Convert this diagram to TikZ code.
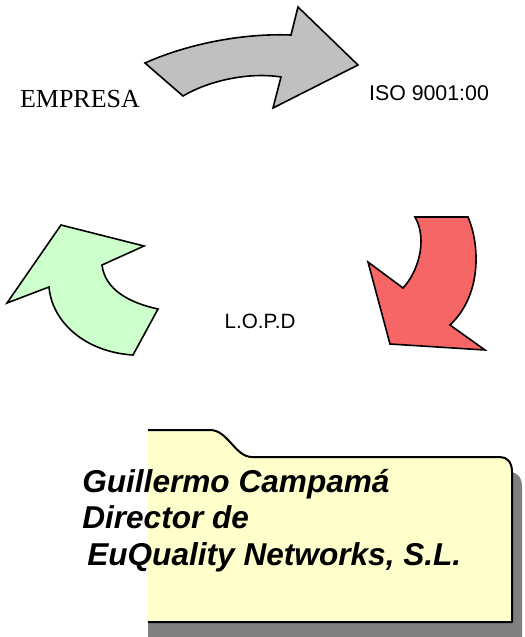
\documentclass[tikz,border=0pt]{standalone}
\usepackage{fontspec}
\setmainfont{Liberation Serif}
\newfontfamily\arialfont{Liberation Sans}
\usepackage{tikz}
\usetikzlibrary{
  calc,
  positioning,
}
\tikzstyle{bigarrow} = [
  draw=black,
  line width=1.2pt,
  line join=miter,
]
\tikzstyle{cyclelabel} = [
  inner sep=0pt,
  text=black,
]
\tikzstyle{foldertext} = [
  inner sep=0pt,
  anchor=base west,
  font=\arialfont\bfseries\itshape\fontsize{23.7}{27}\selectfont,
]
\definecolor{arrowgray}{RGB}{192, 192, 192}
\definecolor{arrowred}{RGB}{246, 102, 102}
\definecolor{arrowgreen}{RGB}{204, 255, 204}
\definecolor{folderyellow}{RGB}{255, 255, 204}
\definecolor{shadowgray}{RGB}{128, 128, 128}

\begin{document}
\begin{tikzpicture}[x=0.75pt, y=-0.75pt]

        \useasboundingbox (0,0) rectangle (525,637);

        \fill [bigarrow, fill=arrowgray] (145,63) .. controls (185,45) and (240,33) .. (291,35)
              -- (298,7) -- (358,65) -- (273,108) -- (281,77)
              .. controls (250,72) and (210,80) .. (183,96) -- cycle;

        \fill [bigarrow, fill=arrowred] (415,217) -- (468,217)
              .. controls (480,245) and (482,295) .. (450,325)
              -- (485,350) -- (390,344) -- (368,262) -- (403,288)
              .. controls (418,272) and (428,240) .. (415,217) -- cycle;

        \fill [bigarrow, fill=arrowgreen] (133,355) -- (158,309)
              .. controls (130,303) and (105,290) .. (102,265)
              -- (144,246) -- (61,225) -- (7,303) -- (49,287)
              .. controls (52,322) and (85,352) .. (133,355) -- cycle;

        \node [cyclelabel, anchor=base, font=\fontsize{19.5}{23}\selectfont]
              (empresa) at (80,107) {EMPRESA};

        \node [cyclelabel, anchor=base, font=\arialfont\fontsize{16}{19}\selectfont]
              (iso) at (429,100) {ISO 9001:00};

        \node [cyclelabel, anchor=base, font=\arialfont\fontsize{15.5}{18}\selectfont]
              (lopd) at (260,328) {L.O.P.D};

        \fill [shadowgray] (148,637) -- (148,444) -- (220,444)
              .. controls (238,444) and (245,472) .. (262,472)
              -- (510,472) .. controls (517,472) and (522,477) .. (522,487)
              -- (522,637) -- cycle;

        \fill [folderyellow] (148,622) -- (148,430) -- (210,430)
              .. controls (228,430) and (235,457) .. (252,457)
              -- (500,457) .. controls (507,457) and (512,462) .. (512,472)
              -- (512,622) -- cycle;

        \draw [line width=1.5pt, line join=round] (148,430) -- (210,430)
              .. controls (228,430) and (235,457) .. (252,457)
              -- (500,457) .. controls (507,457) and (512,462) .. (512,472)
              -- (512,622) -- (148,622);

        \node [foldertext] (guillermo) at (82,492) {Guillermo Campamá};

        \node [foldertext] (director) at (82,528) {Director de};

        \node [foldertext] (euquality) at (87,565) {EuQuality Networks, S.L.};
      \end{tikzpicture}
\end{document}
